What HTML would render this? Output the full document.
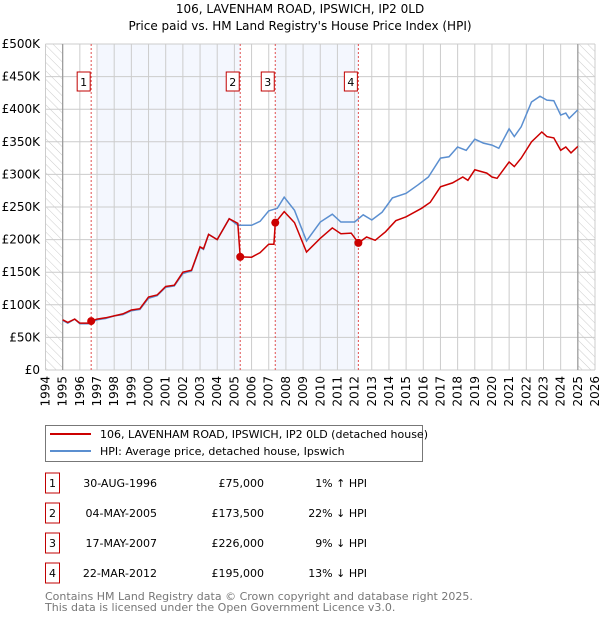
<!DOCTYPE html>
<html><head><meta charset="utf-8"><style>
body{margin:0;background:#fff;font-family:"DejaVu Sans","Liberation Sans",sans-serif}
svg text{font-family:"DejaVu Sans","Liberation Sans",sans-serif}
</style></head><body>
<svg id="chart" width="600" height="620" xmlns="http://www.w3.org/2000/svg">
<defs><pattern id="hatch" width="6" height="6" patternUnits="userSpaceOnUse" patternTransform="rotate(-45)"><line x1="0" y1="0" x2="0" y2="6" stroke="#ccc" stroke-width="1"/></pattern></defs>
<text x="300" y="13" text-anchor="middle" font-size="12">106, LAVENHAM ROAD, IPSWICH, IP2 0LD</text>
<text x="300" y="30" text-anchor="middle" font-size="12">Price paid vs. HM Land Registry's House Price Index (HPI)</text>
<g id="bands"></g><g id="grid"></g><g id="lines"></g><g id="marks"></g>
<rect x="45.5" y="425.5" width="377" height="36" fill="#fff" stroke="#777"/>
<line x1="50" y1="434" x2="91" y2="434" stroke="#cc0000" stroke-width="2"/>
<text x="100" y="438" font-size="11">106, LAVENHAM ROAD, IPSWICH, IP2 0LD (detached house)</text>
<line x1="50" y1="451" x2="91" y2="451" stroke="#5b8fd0" stroke-width="2"/>
<text x="100" y="455" font-size="11">HPI: Average price, detached house, Ipswich</text>
<g id="table" font-size="11"></g>
<text x="45" y="600" font-size="11" fill="#777">Contains HM Land Registry data © Crown copyright and database right 2025.</text>
<text x="45" y="611" font-size="11" fill="#777">This data is licensed under the Open Government Licence v3.0.</text>
</svg>
<script>
const yearTicks=[1994,1995,1996,1997,1998,1999,2000,2001,2002,2003,2004,2005,2006,2007,2008,2009,2010,2011,2012,2013,2014,2015,2016,2017,2018,2019,2020,2021,2022,2023,2024,2025,2026];
const valueTicks=[0,50,100,150,200,250,300,350,400,450,500];
const valueLabels=["£0","£50K","£100K","£150K","£200K","£250K","£300K","£350K","£400K","£450K","£500K"];
const hpiYears=[1995,1995.3,1995.7,1996,1996.5,1997,1997.5,1998,1998.5,1999,1999.5,2000,2000.5,2001,2001.5,2002,2002.5,2003,2003.2,2003.5,2004,2004.7,2005.2,2005.5,2006,2006.5,2007,2007.5,2007.9,2008.5,2009.2,2010,2010.7,2011.2,2012,2012.5,2013,2013.6,2014.2,2015,2015.7,2016.3,2017,2017.5,2018,2018.5,2019,2019.5,2020,2020.4,2021,2021.3,2021.7,2022.3,2022.8,2023.2,2023.6,2024,2024.3,2024.5,2025];
const hpiValues=[76,72,78,71,71,77,79,83,85,91,93,110,114,127,129,148,152,188,185,208,200,232,222,222,222,228,244,248,265,245,198,227,239,227,227,238,230,242,264,271,284,296,325,327,342,337,354,348,345,340,370,358,373,411,420,414,413,391,394,386,399];
const ppYears=[1995,1995.3,1995.7,1996,1996.5,1996.66,1997,1997.5,1998,1998.5,1999,1999.5,2000,2000.5,2001,2001.5,2002,2002.5,2003,2003.2,2003.5,2004,2004.7,2005.2,2005.34,2006,2006.5,2007,2007.3,2007.38,2007.9,2008.5,2009.2,2010,2010.7,2011.2,2011.8,2012.22,2012.7,2013.2,2013.8,2014.4,2015,2015.9,2016.4,2017,2017.7,2018.3,2018.6,2019,2019.7,2020,2020.3,2021,2021.3,2021.7,2022.3,2022.9,2023.2,2023.6,2024,2024.3,2024.6,2025];
const ppValues=[77,73,78,72,72,75,78,80,83,86,92,94,112,115,128,130,150,153,189,186,208,200,232,225,173.5,173,180,193,193,226,243,226,181,202,218,209,210,195,204,199,212,229,235,248,257,281,287,296,291,307,302,296,294,319,312,325,350,365,358,356,337,342,333,343];
const saleYears=[1996.66,2005.34,2007.38,2012.22];
const saleValues=[75,173.5,226,195];
const saleLabels=["1","2","3","4"];
const saleDates=["30-AUG-1996","04-MAY-2005","17-MAY-2007","22-MAR-2012"];
const salePrices=["£75,000","£173,500","£226,000","£195,000"];
const saleHpi=["1% ↑ HPI","22% ↓ HPI","9% ↓ HPI","13% ↓ HPI"];

const NS="http://www.w3.org/2000/svg";
const X0=45.5,X1=595,Y0=370,Y1=44;
const x=y=>X0+(y-1994)*(X1-X0)/32;
const yv=v=>Y0-v*(Y0-Y1)/500;
function mk(tag,attrs,parent,txt){const e=document.createElementNS(NS,tag);for(const k in attrs)e.setAttribute(k,attrs[k]);if(txt!==undefined)e.textContent=txt;document.getElementById(parent).appendChild(e);return e;}
let e;
e=mk('rect',{x:x(1994),y:Y1,width:x(1995)-x(1994),height:Y0-Y1,fill:'url(#hatch)'},'bands');


e=mk('rect',{x:x(2025),y:Y1,width:x(2026)-x(2025),height:Y0-Y1,fill:'url(#hatch)'},'bands');


e=mk('rect',{x:x(1997),y:Y1,width:x(saleYears[1])-x(1997),height:Y0-Y1,fill:'#f4f7fe'},'bands');


e=mk('rect',{x:x(saleYears[2]),y:Y1,width:x(saleYears[3])-x(saleYears[2]),height:Y0-Y1,fill:'#f4f7fe'},'bands');


yearTicks.forEach(t=>{
 e=mk('line',{x1:x(t),x2:x(t),y1:Y1,y2:Y0,stroke:'#ccc','stroke-width':1},'grid');
 
 
 e=mk('text',{x:0,y:0,'font-size':12,'text-anchor':'end',transform:`translate(${x(t)+4},${Y0+6}) rotate(-90)`},'grid',String(t));
 
 
});
valueTicks.forEach((v,i)=>{
 e=mk('line',{x1:X0,x2:X1,y1:yv(v),y2:yv(v),stroke:'#ccc','stroke-width':1},'grid');
 
 
 e=mk('text',{x:40,y:yv(v)+4,'font-size':12,'text-anchor':'end'},'grid',valueLabels[i]);
 
 
});
[1995,2025].forEach(t=>{mk('line',{x1:x(t),x2:x(t),y1:Y1,y2:Y0,stroke:'#999','stroke-width':1.2},'grid');});
saleYears.forEach((s,i)=>{
 e=mk('line',{x1:x(s),x2:x(s),y1:Y1,y2:Y0,stroke:'#e05050','stroke-width':1,'stroke-dasharray':'2,2'},'grid');
 
 
 const bx=x(s);
 e=mk('rect',{x:bx-14,y:72,width:13,height:19,fill:'#fff',stroke:'#c00000'},'grid');
 
 
 mk('text',{x:bx-7.5,y:86,'font-size':11,'text-anchor':'middle'},'grid',saleLabels[i]);
});
function path(xs,vs){return xs.map((t,i)=>(i?'L':'M')+x(t).toFixed(1)+','+yv(vs[i]).toFixed(1)).join('');}
e=mk('path',{d:path(hpiYears,hpiValues),fill:'none',stroke:'#5b8fd0','stroke-width':1.5},'lines');


e=mk('path',{d:path(ppYears,ppValues),fill:'none',stroke:'#cc0000','stroke-width':1.5},'lines');


saleYears.forEach((s,i)=>{
 e=mk('circle',{cx:x(s),cy:yv(saleValues[i]),r:4,fill:'#cc0000'},'marks');
 
 
});
const rowY=[483,513,543,573];
saleLabels.forEach((l,i)=>{
 const cy=rowY[i];
 e=mk('rect',{x:45.5,y:cy-10,width:14,height:20,fill:'#fff',stroke:'#c00000'},'table');
 
 
 mk('text',{x:52.5,y:cy+4,'text-anchor':'middle'},'table',l);
 e=mk('text',{x:157,y:cy+4,'text-anchor':'end'},'table',saleDates[i]);
 
 
 e=mk('text',{x:264,y:cy+4,'text-anchor':'end'},'table',salePrices[i]);
 
 
 e=mk('text',{x:367,y:cy+4,'text-anchor':'end'},'table',saleHpi[i]);
 
 
});
</script>
</body></html>
